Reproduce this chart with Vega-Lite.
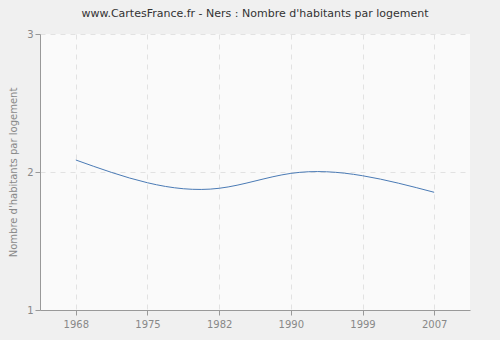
{
  "$schema": "https://vega.github.io/schema/vega-lite/v6.json",
  "autosize": {"type": "none"},
  "width": 430,
  "height": 276,
  "padding": {"left": 40, "top": 34, "right": 30, "bottom": 30},
  "background": "#f0f0f0",
  "title": {
    "text": "www.CartesFrance.fr - Ners : Nombre d'habitants par logement",
    "font": "DejaVu Sans",
    "fontSize": 11,
    "fontWeight": "normal",
    "color": "#333333",
    "anchor": "middle",
    "offset": 10
  },
  "config": {
    "view": {"fill": "#fafafa", "stroke": null},
    "axis": {
      "labelFont": "DejaVu Sans",
      "labelFontSize": 10,
      "labelColor": "#888888",
      "titleFont": "DejaVu Sans",
      "titleFontSize": 10,
      "titleFontWeight": "normal",
      "titleColor": "#888888",
      "domainColor": "#999999",
      "tickColor": "#999999",
      "gridColor": "#e2e2e2",
      "gridDash": [5, 5]
    }
  },
  "data": {
    "values": [
      {"year": "1968", "value": 2.087},
      {"year": "1975", "value": 1.922},
      {"year": "1982", "value": 1.882},
      {"year": "1990", "value": 1.99},
      {"year": "1999", "value": 1.973},
      {"year": "2007", "value": 1.853}
    ]
  },
  "mark": {"type": "line", "interpolate": "natural", "color": "#4a7ab5", "strokeWidth": 1},
  "encoding": {
    "x": {
      "field": "year",
      "type": "ordinal",
      "scale": {"type": "point", "padding": 0.5},
      "axis": {"title": null, "labelAngle": 0, "grid": true, "tickSize": 5, "labelPadding": 4}
    },
    "y": {
      "field": "value",
      "type": "quantitative",
      "scale": {"domain": [1, 3], "zero": false, "nice": false},
      "axis": {"title": "Nombre d'habitants par logement", "values": [1, 2, 3], "format": ".0f", "labelOverlap": false, "grid": true, "tickSize": 5, "titlePadding": 8}
    }
  }
}
